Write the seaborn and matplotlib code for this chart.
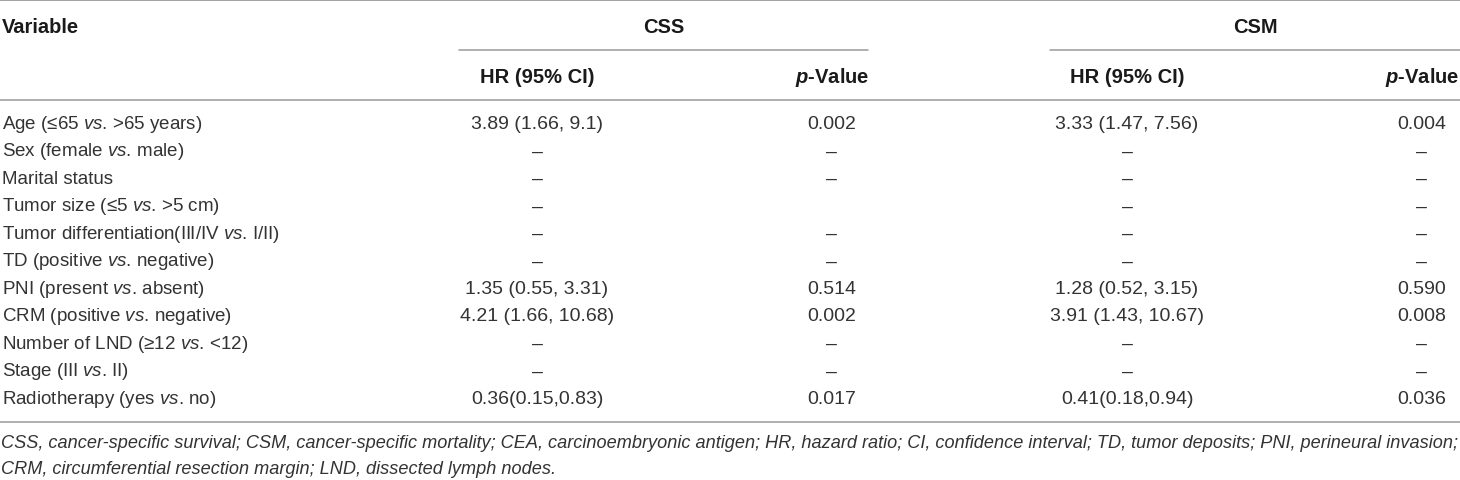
import pandas as pd
import matplotlib.pyplot as plt
import seaborn as sns

# Table content
variables = [
    r"Age (≤65 $\it{vs}$. >65 years)",
    r"Sex (female $\it{vs}$. male)",
    "Marital status",
    r"Tumor size (≤5 $\it{vs}$. >5 cm)",
    r"Tumor differentiation(III/IV $\it{vs}$. I/II)",
    r"TD (positive $\it{vs}$. negative)",
    r"PNI (present $\it{vs}$. absent)",
    r"CRM (positive $\it{vs}$. negative)",
    r"Number of LND (≥12 $\it{vs}$. <12)",
    r"Stage (III $\it{vs}$. II)",
    r"Radiotherapy (yes $\it{vs}$. no)",
]
css_hr = ["3.89 (1.66, 9.1)", "–", "–", "–", "–", "–",
          "1.35 (0.55, 3.31)", "4.21 (1.66, 10.68)", "–", "–", "0.36(0.15,0.83)"]
css_p = ["0.002", "–", "–", "", "–", "–", "0.514", "0.002", "–", "–", "0.017"]
csm_hr = ["3.33 (1.47, 7.56)", "–", "–", "–", "–", "–",
          "1.28 (0.52, 3.15)", "3.91 (1.43, 10.67)", "–", "–", "0.41(0.18,0.94)"]
csm_p = ["0.004", "–", "–", "–", "–", "–", "0.590", "0.008", "–", "–", "0.036"]

groups = ["CSS", "CSM"]
sub_headers = ["HR (95% CI)", r"$\mathbfit{p}$-Value"]
footnotes = [
    "CSS, cancer-specific survival; CSM, cancer-specific mortality; CEA, carcinoembryonic antigen; "
    "HR, hazard ratio; CI, confidence interval; TD, tumor deposits; PNI, perineural invasion;",
    "CRM, circumferential resection margin; LND, dissected lymph nodes.",
]

df = pd.DataFrame({"Variable": variables, "CSS_HR": css_hr, "CSS_p": css_p,
                   "CSM_HR": csm_hr, "CSM_p": csm_p})

sns.set_theme(style="white")
plt.rcParams["font.family"] = ["Liberation Sans", "DejaVu Sans"]
plt.rcParams["mathtext.fontset"] = "custom"
plt.rcParams["mathtext.rm"] = "Liberation Sans"
plt.rcParams["mathtext.it"] = "Liberation Sans:italic"
plt.rcParams["mathtext.bf"] = "Liberation Sans:bold"
plt.rcParams["mathtext.bfit"] = "Liberation Sans:italic:bold"

W, H = 1460, 481
fig = plt.figure(figsize=(14.6, 4.81), dpi=100)
ax = fig.add_axes([0, 0, 1, 1])
ax.set_xlim(0, W)
ax.set_ylim(H, 0)
ax.axis("off")

body_c = "#333333"
head_c = "#1a1a1a"
line_c = "#9a9a9a"
fs_var = 13.5
fs_num = 14
fs_head = 14.5
fs_note = 13.1

# layout
col_x = {"CSS_HR": 537, "CSS_p": 832, "CSM_HR": 1127, "CSM_p": 1422}
group_span = {"CSS": (459, 868), "CSM": (1050, 1460)}
row0, step = 129, 27.5

# rules
ax.plot([0, W], [1, 1], color=line_c, lw=1.3)
ax.plot([0, W], [100.5, 100.5], color=line_c, lw=1.1)
ax.plot([0, W], [423, 423], color=line_c, lw=1.1)
for g in groups:
    x0, x1 = group_span[g]
    ax.plot([x0, x1], [50.5, 50.5], color=line_c, lw=1.1)
    ax.text((x0 + x1) / 2, 33, g, ha="center", va="baseline",
            fontsize=fs_head, fontweight="bold", color=head_c)

# header
ax.text(2, 33, "Variable", ha="left", va="baseline", fontsize=fs_head,
        fontweight="bold", color=head_c)
for key, lab in zip(["CSS_HR", "CSS_p", "CSM_HR", "CSM_p"], sub_headers * 2):
    ax.text(col_x[key], 83, lab, ha="center", va="baseline", fontsize=fs_head,
            fontweight="bold", color=head_c)

# body rows
for i, row in df.iterrows():
    y = row0 + i * step
    ax.text(2, y, row["Variable"], ha="left", va="baseline", fontsize=fs_var, color=body_c)
    for key in ["CSS_HR", "CSS_p", "CSM_HR", "CSM_p"]:
        ax.text(col_x[key], y, row[key], ha="center", va="baseline",
                fontsize=fs_num, color=body_c)

# footnotes
for j, note in enumerate(footnotes):
    ax.text(1, 448 + j * 26, note, ha="left", va="baseline", fontsize=fs_note,
            fontstyle="italic", color=body_c)

plt.savefig("out.png", dpi=100)
